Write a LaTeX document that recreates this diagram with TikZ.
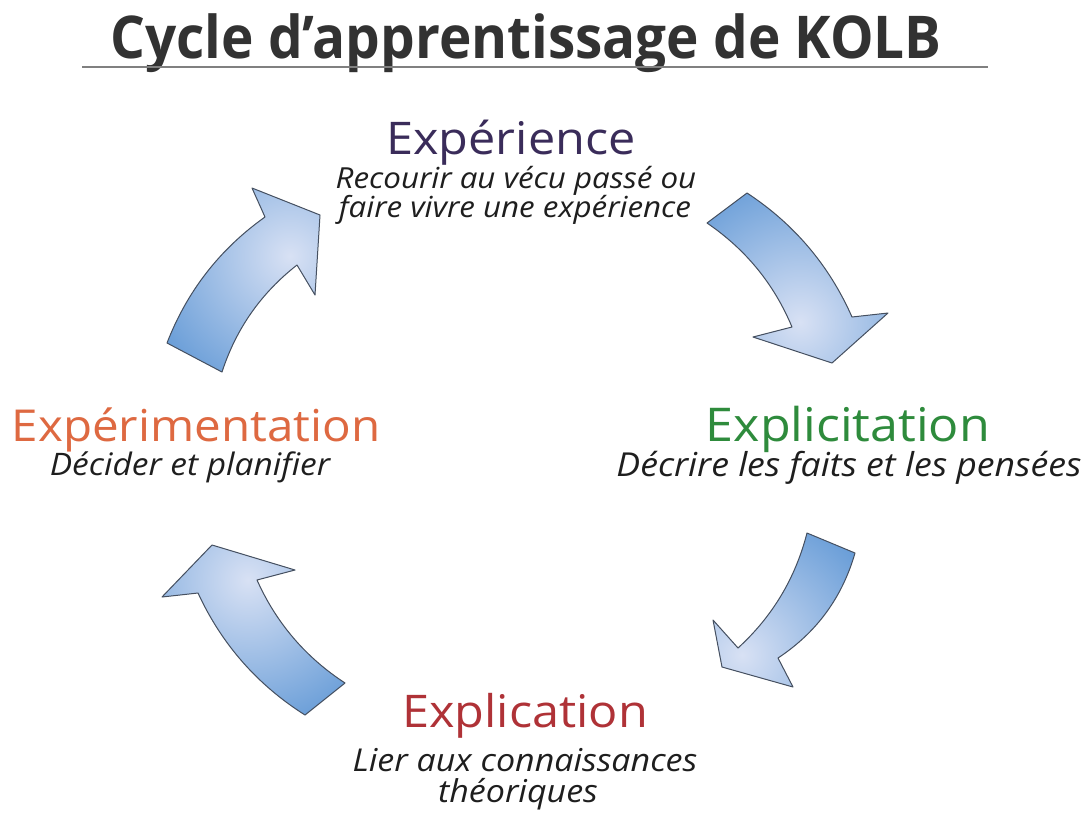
\documentclass[tikz,border=0pt]{standalone}
\usepackage{fontspec}
\setmainfont{Open Sans}[FakeStretch=1.08]
\newfontfamily\titlefont{Open Sans}[FakeStretch=0.93]
\definecolor{cexp}{RGB}{58,44,90}
\definecolor{cexpl}{RGB}{46,139,60}
\definecolor{cexpc}{RGB}{175,50,55}
\definecolor{cexpm}{RGB}{222,105,65}
\definecolor{csub}{RGB}{30,30,30}
\definecolor{ctitle}{RGB}{50,50,50}
\definecolor{arrowblue}{RGB}{106,158,216}
\definecolor{arrowlight}{RGB}{216,225,244}
\definecolor{arrowline}{RGB}{70,80,96}
\tikzset{
  head/.style={anchor=base, inner sep=0pt, font=\fontsize{#1}{50}\selectfont},
  sub/.style={anchor=base, inner sep=0pt, text=csub, font=\fontsize{#1}{36}\selectfont\itshape},
  bigarrow/.style={draw=arrowline, line width=1pt, line join=round, fill=arrowblue,
    path picture={\shade[inner color=arrowlight, outer color=arrowblue] (#1) circle (150pt);}},
}
\begin{document}
\begin{tikzpicture}[x=1pt,y=-1pt]
\fill[white] (0,0) rectangle (1088,815);
\useasboundingbox (0,0) rectangle (1088,815);
% title
\node[anchor=base, inner sep=0pt, text=ctitle, font=\titlefont\fontsize{59}{66}\selectfont\bfseries] (title) at (526,58) {Cycle d’apprentissage de KOLB};
\coordinate (ruleL) at (82,67);
\coordinate (ruleR) at (988,67);
\draw[gray, line width=1.2pt] (ruleL) -- (ruleR);
% labels
\node[head=45, text=cexp] (exp) at (511,154) {Expérience};
\node[sub=29] (exps1) at (516,188) {Recourir au vécu passé ou};
\node[sub=29] (exps2) at (515,217) {faire vivre une expérience};
\node[head=46.5, text=cexpl] (expl) at (848,441) {Explicitation};
\node[sub=33] (expls) at (849,476) {Décrire les faits et les pensées};
\node[head=45, text=cexpc] (expc) at (525,727) {Explication};
\node[sub=31.5] (expcs1) at (525,771) {Lier aux connaissances};
\node[sub=31.5] (expcs2) at (518,802) {théoriques};
\node[head=44, text=cexpm] (expm) at (196,441) {Expérimentation};
\node[sub=31] (expms) at (190,475) {Décider et planifier};
% highlight centres
\coordinate (h1) at (800,322);
\coordinate (h2) at (290,256);
\coordinate (h3) at (742,655);
\coordinate (h4) at (248,580);
% arrow 1 : Expérience -> Explicitation
\draw[bigarrow=h1] (707,223) -- (747,193) .. controls (794.2,224) and (829.2,265.4) .. (852,317) -- (888,313) -- (832,363) -- (753,337) -- (792,327) .. controls (774,283.9) and (745.6,249.3) .. (707,223) -- cycle;
% arrow 3 : Explicitation -> Explication
\draw[bigarrow=h3] (807,533) -- (855,553) .. controls (842.2,597.5) and (816.6,632.5) .. (778,658) -- (793,687) -- (722,667) -- (713,620) -- (738,648) .. controls (772.4,616.6) and (795.4,578.2) .. (807,533) -- cycle;
% arrow 4 : Explication -> Expérimentation
\draw[bigarrow=h4] (305,715) -- (345,683) .. controls (305.6,657.3) and (276.2,622.9) .. (257,580) -- (295,570) -- (212,545) -- (162,597) -- (198,593) .. controls (221.7,644.2) and (257.3,684.8) .. (305,715) -- cycle;
% arrow 2 : Expérimentation -> Expérience
\draw[bigarrow=h2] (222,372) -- (167,343) .. controls (187.1,291.2) and (219.7,249.2) .. (265,217) -- (252,188) -- (320,215) -- (315,295) -- (297,265) .. controls (261.1,293.1) and (236.1,328.7) .. (222,372) -- cycle;
\end{tikzpicture}
\end{document}
